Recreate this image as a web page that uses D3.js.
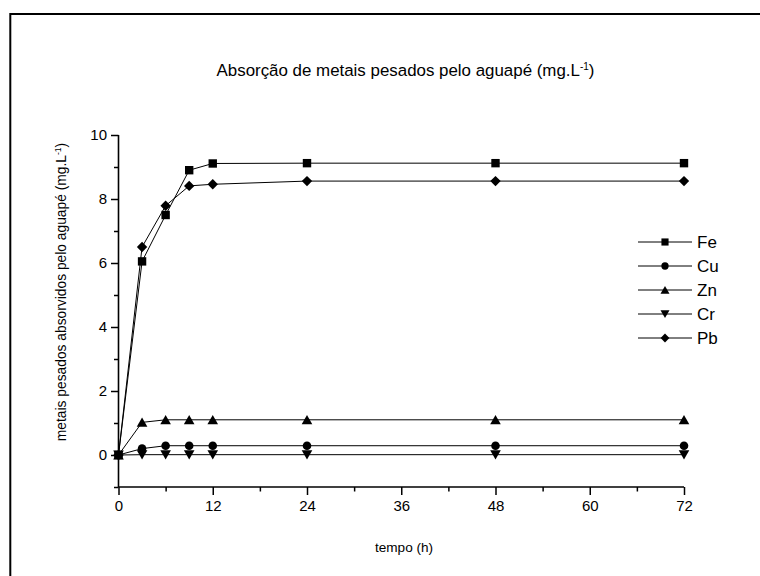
<!DOCTYPE html>
<html><head><meta charset="utf-8">
<script src="https://cdn.jsdelivr.net/npm/d3@7"></script>
<style>body{margin:0;background:#fff}svg{display:block}text{font-family:Arial,"Liberation Sans",sans-serif;fill:#000}</style>
</head><body>
<svg id="c" width="760" height="576"></svg>
<script>
const hours = [0, 3, 6, 9, 12, 24, 48, 72];
const seriesNames = ["Fe", "Cu", "Zn", "Cr", "Pb"];
const fe = [0, 6.05, 7.5, 8.9, 9.11, 9.12, 9.12, 9.12];
const cu = [0, 0.2, 0.29, 0.29, 0.29, 0.29, 0.29, 0.29];
const zn = [0, 1.02, 1.1, 1.1, 1.1, 1.1, 1.1, 1.1];
const cr = [0, 0.01, 0.01, 0.01, 0.01, 0.01, 0.01, 0.01];
const pb = [0, 6.5, 7.79, 8.41, 8.46, 8.56, 8.56, 8.56];
const xTicks = [0, 12, 24, 36, 48, 60, 72];
const yTicks = [0, 2, 4, 6, 8, 10];
const titleText = "Absorção de metais pesados pelo aguapé (mg.L";
const yTitleText = "metais pesados absorvidos pelo aguapé (mg.L";
const xTitleText = "tempo (h)";

const seriesValues = [fe, cu, zn, cr, pb];
const markerTypes = ["square", "circle", "triangle", "down", "diamond"];

const svg = d3.select("#c");
// outer frame
svg.append("rect").attr("x", 10.3).attr("y", 14).attr("width", 760).attr("height", 580)
  .attr("fill", "none").attr("stroke", "#000").attr("stroke-width", 2);

const x = d3.scaleLinear().domain([0, 72]).range([118.5, 684]);
const y = d3.scaleLinear().domain([-1, 10]).range([487, 135]);

function marker(type) {
  switch (type) {
    case "square": return "M-4.2,-4.2H4.2V4.2H-4.2Z";
    case "circle": return "M4.3,0A4.3,4.3 0 1,1 -4.3,0A4.3,4.3 0 1,1 4.3,0Z";
    case "triangle": return "M0,-4.8L5.3,4.4L-5.3,4.4Z";
    case "down": return "M0,4.8L5.3,-4.4L-5.3,-4.4Z";
    case "diamond": return "M0,-5.2L5.2,0L0,5.2L-5.2,0Z";
  }
}

// axes
const xAxisMajor = d3.axisBottom(x).tickValues(xTicks).tickSize(8).tickPadding(5).tickFormat(d3.format("d"));
const xAxisMinor = d3.axisBottom(x).tickValues(d3.range(6, 72, 12)).tickSize(4.5).tickFormat("");
const yAxisMajor = d3.axisLeft(y).tickValues(yTicks).tickSize(7.5).tickPadding(4).tickFormat(d3.format("d"));
const yAxisMinor = d3.axisLeft(y).tickValues(d3.range(-1, 10, 2)).tickSize(4.5).tickFormat("");

function styleAxis(g) {
  g.select(".domain").remove();
  g.selectAll("line").attr("stroke", "#000").attr("stroke-width", 1.5);
  g.selectAll("text").style("font-size", "15px").attr("fill", "#000");
}
svg.append("g").attr("transform", `translate(0,${y(-1)})`).call(xAxisMajor).call(styleAxis);
svg.append("g").attr("transform", `translate(0,${y(-1)})`).call(xAxisMinor).call(styleAxis);
svg.append("g").attr("transform", `translate(${x(0)},0)`).call(yAxisMajor).call(styleAxis);
svg.append("g").attr("transform", `translate(${x(0)},0)`).call(yAxisMinor).call(styleAxis);
// axis lines
svg.append("line").attr("x1", x(0)).attr("x2", x(72)).attr("y1", y(-1)).attr("y2", y(-1))
  .attr("stroke", "#000").attr("stroke-width", 1.6);
svg.append("line").attr("x1", x(0)).attr("x2", x(0)).attr("y1", y(-1)).attr("y2", y(10))
  .attr("stroke", "#000").attr("stroke-width", 1.6);

// series
const line = d3.line().x((d, i) => x(hours[i])).y(d => y(d));
seriesValues.forEach((vals, si) => {
  svg.append("path").attr("d", line(vals)).attr("fill", "none")
    .attr("stroke", "#000").attr("stroke-width", 1);
  svg.append("g").selectAll("path").data(vals).join("path")
    .attr("transform", (d, i) => `translate(${x(hours[i])},${y(d)})`)
    .attr("d", marker(markerTypes[si])).attr("fill", "#000");
});

// legend
const legY = d3.scalePoint().domain(seriesNames).range([242, 338]);
seriesNames.forEach((name, si) => {
  const ly = legY(name);
  svg.append("line").attr("x1", 638).attr("x2", 692).attr("y1", ly).attr("y2", ly)
    .attr("stroke", "#000").attr("stroke-width", 1);
  svg.append("path")
    .attr("d", marker(markerTypes[si])).attr("fill", "#000")
    .attr("transform", `translate(665,${ly}) scale(0.85)`);
  svg.append("text").attr("x", 697).attr("y", ly + 6).style("font-size", "17px").text(name);
});

// title
const t = svg.append("text").attr("x", 405.5).attr("y", 75.5).attr("text-anchor", "middle").style("font-size", "16.9px");
t.append("tspan").text(titleText);
t.append("tspan").attr("dy", -6).style("font-size", "10px").text("-1");
t.append("tspan").attr("dy", 6).text(")");

// y title
const yt = svg.append("text").attr("transform", "translate(66,292) rotate(-90)").attr("text-anchor", "middle").style("font-size", "13.8px");
yt.append("tspan").text(yTitleText);
yt.append("tspan").attr("dy", -5).style("font-size", "8.5px").text("-1");
yt.append("tspan").attr("dy", 5).text(")");

// x title
svg.append("text").attr("x", 404).attr("y", 552).attr("text-anchor", "middle").style("font-size", "13.6px").text(xTitleText);
</script>
</body></html>
